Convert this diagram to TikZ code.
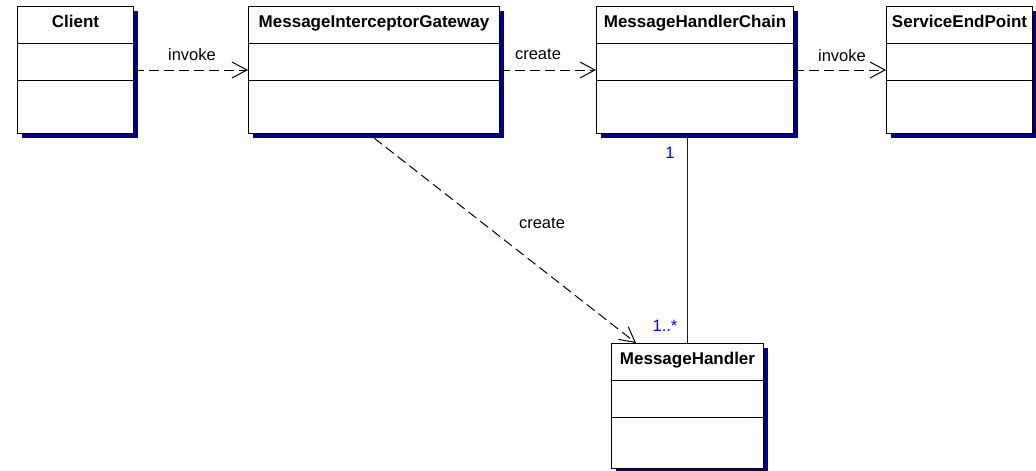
\documentclass[tikz,border=0pt]{standalone}
\usepackage{fontspec}
\setmainfont{Liberation Sans}
\usetikzlibrary{arrows.meta,shadows,calc}
\definecolor{shade}{RGB}{0,0,128}
\definecolor{assoc}{RGB}{0,0,255}

% UML class box: name, left, top, width, height, title
\newcommand\umlclass[6]{%
  \node[classbox, minimum width=#4pt, minimum height=#5pt] (#1) at (#2,#3) {};
  \draw[divider] ([yshift=-37pt]#1.north west) -- ([yshift=-37pt]#1.north east);
  \draw[divider] ([yshift=-74pt]#1.north west) -- ([yshift=-74pt]#1.north east);
  \node[classtitle] (#1-title) at ([yshift=-21.5pt]#1.north) {#6};
}

\begin{document}
\begin{tikzpicture}[x=1pt,y=-1pt,
  classbox/.style={draw=black, fill=white, line width=1pt, inner sep=0pt, anchor=north west,
    drop shadow={shadow xshift=4pt, shadow yshift=-4pt, fill=shade, opacity=1}},
  divider/.style={draw=black, line width=1pt},
  classtitle/.style={font=\fontsize{17}{20}\selectfont\bfseries, anchor=base, inner sep=0pt},
  dep/.style={draw=black, line width=1pt, dash pattern=on 10pt off 5pt,
    -{Straight Barb[length=15pt,width=16pt,line width=1pt]}},
  lbl/.style={font=\fontsize{16.5}{19}\selectfont, anchor=base, inner sep=0pt},
  assocline/.style={draw=assoc, line width=1.5pt},
  mult/.style={lbl, text=assoc}]

\useasboundingbox[fill=white] (0,0) rectangle (1036,471);

\umlclass{client}{17}{6}{116}{127}{Client}
\umlclass{gateway}{248}{6}{251}{127}{MessageInterceptorGateway}
\umlclass{chain}{596}{6}{197}{127}{MessageHandlerChain}
\umlclass{endpoint}{886}{6}{146}{127}{ServiceEndPoint}
\umlclass{handler}{611}{343}{152}{125}{MessageHandler}

% dependencies
\draw[dep] (client.east) -- (gateway.west);
\draw[dep] (gateway.east) -- (chain.west);
\draw[dep] (chain.east) -- (endpoint.west);
\coordinate (gw-out) at ([yshift=-4pt]gateway.south);
\coordinate (hd-in) at ([xshift=25pt]handler.north west);
\draw[dep] (gw-out) -- (hd-in);

% association
\coordinate (ch-out) at ([yshift=-4pt]chain.south -| handler.north);
\draw[assocline] (ch-out) -- (handler.north);

% labels
\node[lbl] (l-invoke1) at (192,60) {invoke};
\node[lbl] (l-create1) at (538,59) {create};
\node[lbl] (l-invoke2) at (842,61) {invoke};
\node[lbl] (l-create2) at (542,228) {create};
\node[mult] (m-one) at (670,158) {1};
\node[mult] (m-many) at (665,331) {1..*};
\end{tikzpicture}
\end{document}
